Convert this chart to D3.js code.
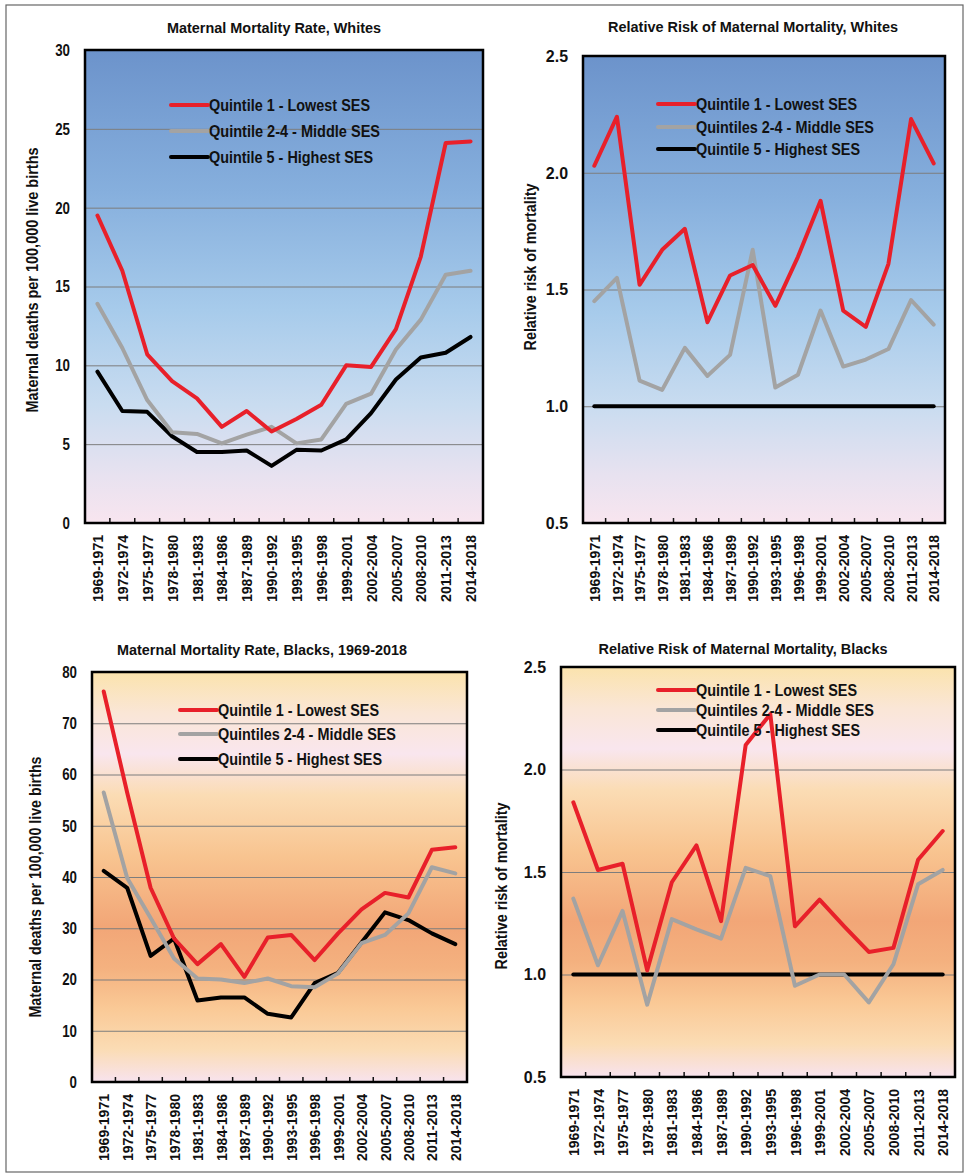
<!DOCTYPE html>
<html>
<head>
<meta charset="utf-8">
<script src="https://cdn.jsdelivr.net/npm/d3@7"></script>
<style>
  body { margin: 0; background: #fff; }
  text { font-family: "Liberation Sans", Arial, sans-serif; font-weight: bold; fill: #111; }
</style>
</head>
<body>
<svg width="966" height="1175"></svg>
<script>
let periods = [
  "1969-1971", "1972-1974", "1975-1977", "1978-1980", "1981-1983", "1984-1986",
  "1987-1989", "1990-1992", "1993-1995", "1996-1998", "1999-2001", "2002-2004",
  "2005-2007", "2008-2010", "2011-2013", "2014-2018"
];

// maternal deaths per 100,000 live births, whites
let whiteQ1 = [19.5, 16.0, 10.7, 9.0, 7.9, 6.1, 7.1, 5.8, 6.6, 7.5, 10.0, 9.9, 12.3, 16.9, 24.1, 24.2];
let whiteQ24 = [13.9, 11.1, 7.8, 5.75, 5.65, 5.05, 5.6, 6.1, 5.05, 5.3, 7.55, 8.2, 11.0, 12.9, 15.75, 16.0];
let whiteQ5 = [9.6, 7.1, 7.05, 5.5, 4.5, 4.5, 4.6, 3.62, 4.64, 4.6, 5.3, 6.97, 9.1, 10.5, 10.8, 11.8];

// relative risk, whites
let whiteRRQ1 = [2.03, 2.24, 1.52, 1.67, 1.76, 1.36, 1.56, 1.605, 1.43, 1.64, 1.88, 1.41, 1.34, 1.61, 2.23, 2.04];
let whiteRRQ24 = [1.45, 1.55, 1.11, 1.07, 1.25, 1.13, 1.22, 1.67, 1.08, 1.135, 1.41, 1.17, 1.2, 1.245, 1.455, 1.35];
let whiteRRQ5 = [1, 1, 1, 1, 1, 1, 1, 1, 1, 1, 1, 1, 1, 1, 1, 1];

// maternal deaths per 100,000 live births, blacks
let blackQ1 = [76.2, 56.5, 37.9, 28.0, 23.0, 26.9, 20.5, 28.2, 28.7, 23.8, 29.0, 33.7, 36.9, 36.0, 45.3, 45.8];
let blackQ24 = [56.5, 39.8, 32.0, 24.1, 20.2, 20.0, 19.3, 20.2, 18.7, 18.5, 21.2, 27.1, 28.7, 32.9, 41.9, 40.7];
let blackQ5 = [41.2, 37.9, 24.6, 28.0, 15.9, 16.5, 16.5, 13.3, 12.6, 19.3, 21.3, 27.2, 33.1, 31.6, 29.0, 26.9];

// relative risk, blacks
let blackRRQ1 = [1.84, 1.51, 1.54, 1.02, 1.45, 1.63, 1.26, 2.12, 2.27, 1.235, 1.365, 1.235, 1.11, 1.13, 1.56, 1.70];
let blackRRQ24 = [1.37, 1.045, 1.31, 0.853, 1.27, 1.22, 1.175, 1.52, 1.48, 0.945, 1.0, 1.0, 0.864, 1.05, 1.44, 1.51];
let blackRRQ5 = [1, 1, 1, 1, 1, 1, 1, 1, 1, 1, 1, 1, 1, 1, 1, 1];

let rateTicks = [0, 5, 10, 15, 20, 25, 30];
let rateTicksBlack = [0, 10, 20, 30, 40, 50, 60, 70, 80];
let riskTicks = [0.5, 1.0, 1.5, 2.0, 2.5];

let legendRate = ["Quintile 1 - Lowest SES", "Quintile 2-4 - Middle SES", "Quintile 5 - Highest SES"];
let legendRisk = ["Quintile 1 - Lowest SES", "Quintiles 2-4 - Middle SES", "Quintile 5 - Highest SES"];

let seriesColors = ["#e8202a", "#a3a3a3", "#000000"];

let blueStops = [
  [0, "#6c93cb"], [0.3, "#86afdd"], [0.55, "#a7cbeb"], [0.75, "#c9dcf0"], [0.9, "#e8e2f0"], [1, "#f8e5ef"]
];
let orangeStops = [
  [0, "#fbe3ad"], [0.1, "#fae6d6"], [0.2, "#f9e6ee"], [0.3, "#fbdcb4"], [0.45, "#f8c490"],
  [0.62, "#f2a677"], [0.72, "#f4b17f"], [0.82, "#fac996"], [0.92, "#fbdcb4"], [1, "#f8e3ee"]
];

let svg = d3.select("svg");

svg.append("rect")
  .attr("x", 6)
  .attr("y", 5)
  .attr("width", 957)
  .attr("height", 1167)
  .attr("fill", "none")
  .attr("stroke", "#666")
  .attr("stroke-width", 1.2);

let defs = svg.append("defs");

let makeGradient = (id, stops) => {
  let g = defs.append("linearGradient")
    .attr("id", id)
    .attr("x1", 0).attr("y1", 0)
    .attr("x2", 0).attr("y2", 1);
  stops.forEach(s => {
    g.append("stop").attr("offset", s[0]).attr("stop-color", s[1]);
  });
};
makeGradient("blueBg", blueStops);
makeGradient("orangeBg", orangeStops);

function drawPanel(p) {
  let g = svg.append("g");

  let x = d3.scaleBand().domain(periods).range([p.left, p.right]);
  let y = d3.scaleLinear().domain(p.domain).range([p.bottom, p.top]);
  let w = p.right - p.left;

  g.append("rect")
    .attr("x", p.left)
    .attr("y", p.top)
    .attr("width", w)
    .attr("height", p.bottom - p.top)
    .attr("fill", "url(#" + p.bg + ")");

  // y axis with gridlines
  let yAxis = g.append("g")
    .attr("transform", "translate(" + p.left + ",0)")
    .call(
      d3.axisLeft(y)
        .tickValues(p.ticks)
        .tickFormat(p.format)
        .tickSizeInner(-w)
        .tickSizeOuter(0)
        .tickPadding(15)
    );
  yAxis.select(".domain").remove();
  yAxis.selectAll("line").attr("stroke", "#7d7d7d").attr("stroke-width", 1);
  yAxis.selectAll("text")
    .style("font-size", "17px")
    .style("font-family", "'Liberation Sans', Arial, sans-serif")
    .style("font-weight", "bold")
    .attr("textLength", d => p.format(d).length * 7.4)
    .attr("lengthAdjust", "spacingAndGlyphs")
    .attr("fill", "#111");

  // x axis labels
  let xAxis = g.append("g")
    .attr("transform", "translate(0," + p.bottom + ")")
    .call(d3.axisBottom(x).tickSize(0));
  xAxis.select(".domain").remove();
  xAxis.selectAll("text")
    .attr("transform", "rotate(-90)")
    .attr("x", -12)
    .attr("y", 0)
    .attr("dy", "0.36em")
    .style("text-anchor", "end")
    .style("font-size", "15.5px")
    .style("font-family", "'Liberation Sans', Arial, sans-serif")
    .style("font-weight", "bold")
    .attr("textLength", 67)
    .attr("lengthAdjust", "spacingAndGlyphs")
    .attr("fill", "#111");

  // inward tick marks at category boundaries
  g.selectAll(".btick")
    .data(periods.slice(1))
    .enter()
    .append("line")
    .attr("x1", d => x(d))
    .attr("x2", d => x(d))
    .attr("y1", p.bottom)
    .attr("y2", p.bottom - 5)
    .attr("stroke", "#111")
    .attr("stroke-width", 1.5);

  // series lines
  let line = d3.line()
    .x((d, i) => x(periods[i]) + x.bandwidth() / 2)
    .y(d => y(d));

  p.series.slice().reverse().forEach((s, j) => {
    let k = p.series.length - 1 - j;
    g.append("path")
      .datum(s)
      .attr("d", line)
      .attr("fill", "none")
      .attr("stroke", seriesColors[k])
      .attr("stroke-width", 4)
      .attr("stroke-linejoin", "round")
      .attr("stroke-linecap", "round");
  });

  // plot frame
  g.append("rect")
    .attr("x", p.left)
    .attr("y", p.top)
    .attr("width", w)
    .attr("height", p.bottom - p.top)
    .attr("fill", "none")
    .attr("stroke", "#000")
    .attr("stroke-width", 2.5);

  // legend
  p.legend.forEach((label, i) => {
    let ly = p.legendRows[i];
    g.append("line")
      .attr("x1", p.legendX)
      .attr("x2", p.legendX + 37)
      .attr("y1", ly)
      .attr("y2", ly)
      .attr("stroke", seriesColors[i])
      .attr("stroke-width", 4)
      .attr("stroke-linecap", "round");
    g.append("text")
      .attr("x", p.legendX + 38)
      .attr("y", ly)
      .attr("dy", "0.36em")
      .style("font-size", "17px")
      .attr("textLength", p.legendWidths[i])
      .attr("lengthAdjust", "spacingAndGlyphs")
      .text(label);
  });

  // title
  g.append("text")
    .attr("x", p.titleX)
    .attr("y", p.titleY)
    .attr("text-anchor", "middle")
    .style("font-size", "15.5px")
    .attr("textLength", p.titleWidth)
    .attr("lengthAdjust", "spacingAndGlyphs")
    .text(p.title);

  // y label
  g.append("text")
    .attr("transform", "translate(" + p.ylabelX + "," + p.ylabelY + ") rotate(-90)")
    .attr("text-anchor", "middle")
    .attr("dy", "0.36em")
    .style("font-size", "16px")
    .attr("textLength", p.ylabelWidth)
    .attr("lengthAdjust", "spacingAndGlyphs")
    .text(p.ylabel);
}

drawPanel({
  left: 85, right: 483, top: 50, bottom: 523,
  domain: [0, 30], ticks: rateTicks, format: d3.format("d"),
  bg: "blueBg",
  series: [whiteQ1, whiteQ24, whiteQ5],
  legend: legendRate, legendX: 171, legendRows: [105, 131, 157], legendWidths: [161, 171, 164],
  title: "Maternal Mortality Rate, Whites", titleX: 274, titleY: 33, titleWidth: 214,
  ylabel: "Maternal deaths per 100,000 live births", ylabelX: 32, ylabelY: 280, ylabelWidth: 265
});

drawPanel({
  left: 583, right: 945, top: 56, bottom: 523,
  domain: [0.5, 2.5], ticks: riskTicks, format: d3.format(".1f"),
  bg: "blueBg",
  series: [whiteRRQ1, whiteRRQ24, whiteRRQ5],
  legend: legendRisk, legendX: 658, legendRows: [104, 127, 149], legendWidths: [161, 178, 164],
  title: "Relative Risk of Maternal Mortality, Whites", titleX: 753, titleY: 32, titleWidth: 290,
  ylabel: "Relative risk of mortality", ylabelX: 530, ylabelY: 267, ylabelWidth: 167
});

drawPanel({
  left: 92, right: 467, top: 672, bottom: 1082,
  domain: [0, 80], ticks: rateTicksBlack, format: d3.format("d"),
  bg: "orangeBg",
  series: [blackQ1, blackQ24, blackQ5],
  legend: legendRisk, legendX: 180, legendRows: [710, 734, 759], legendWidths: [161, 178, 164],
  title: "Maternal Mortality Rate, Blacks, 1969-2018", titleX: 262, titleY: 655, titleWidth: 290,
  ylabel: "Maternal deaths per 100,000 live births", ylabelX: 35, ylabelY: 887, ylabelWidth: 261
});

drawPanel({
  left: 561, right: 955, top: 667, bottom: 1077,
  domain: [0.5, 2.5], ticks: riskTicks, format: d3.format(".1f"),
  bg: "orangeBg",
  series: [blackRRQ1, blackRRQ24, blackRRQ5],
  legend: legendRisk, legendX: 658, legendRows: [690, 710, 730], legendWidths: [161, 178, 164],
  title: "Relative Risk of Maternal Mortality, Blacks", titleX: 743, titleY: 654, titleWidth: 289,
  ylabel: "Relative risk of mortality", ylabelX: 501, ylabelY: 886, ylabelWidth: 167
});
</script>
</body>
</html>
